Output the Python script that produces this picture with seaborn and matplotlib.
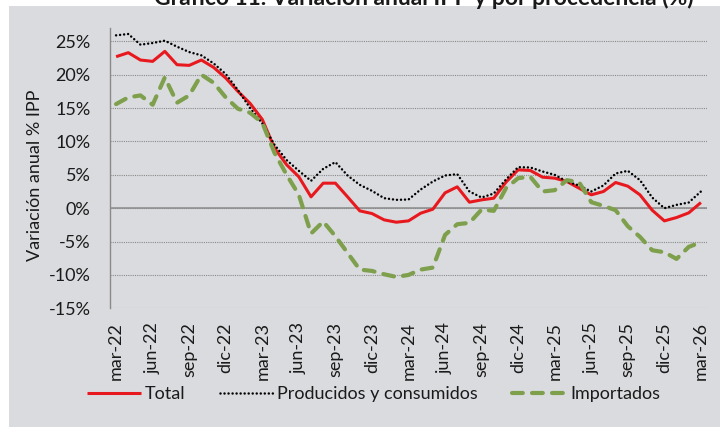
import matplotlib
matplotlib.use("Agg")
import matplotlib.pyplot as plt
from matplotlib.patches import Rectangle
import numpy as np
import pandas as pd
import seaborn as sns

# monthly data, mar-22 .. mar-26 (49 points)
tick_labels = ["mar-22", "jun-22", "sep-22", "dic-22", "mar-23", "jun-23", "sep-23",
               "dic-23", "mar-24", "jun-24", "sep-24", "dic-24", "mar-25", "jun-25",
               "sep-25", "dic-25", "mar-26"]

total = [22.7, 23.3, 22.2, 22.0, 23.5, 21.5, 21.4, 22.2, 21.1, 19.5,
         17.5, 15.7, 13.3, 9.0, 6.5, 4.7, 1.7, 3.75, 3.75, 1.7,
         -0.4, -0.8, -1.75, -2.1, -1.9, -0.75, -0.15, 2.3, 3.2, 0.9,
         1.25, 1.5, 3.9, 5.75, 5.65, 4.65, 4.5, 4.0, 3.0, 2.0,
         2.5, 3.85, 3.3, 2.0, -0.3, -1.9, -1.4, -0.7, 0.85]

producidos = [25.9, 26.1, 24.5, 24.75, 25.1, 24.2, 23.4, 22.9, 21.7, 20.1,
              17.7, 15.0, 12.7, 9.5, 7.2, 5.6, 4.1, 5.9, 6.9, 4.9,
              3.5, 2.6, 1.5, 1.25, 1.3, 2.8, 4.0, 4.9, 5.1, 2.5,
              1.6, 2.2, 4.3, 6.15, 6.1, 5.5, 5.0, 4.0, 3.4, 2.5,
              3.4, 5.2, 5.6, 4.2, 1.6, 0.0, 0.5, 0.85, 2.5]

importados = [15.6, 16.6, 16.9, 15.5, 19.6, 15.8, 16.9, 20.0, 18.8, 16.6,
              14.9, 14.3, 12.8, 8.3, 5.0, 2.0, -3.8, -2.0, -4.2, -6.7,
              -9.2, -9.4, -9.9, -10.3, -10.0, -9.2, -8.9, -4.0, -2.4, -2.2,
              -0.2, -0.4, 3.0, 4.5, 4.7, 2.5, 2.7, 4.2, 3.9, 0.9,
              0.35, -0.3, -2.7, -4.3, -6.3, -6.6, -7.6, -5.8, -5.1]

W, H = 720, 429
BG = "#dadbde"
GRID = "#8a8a8a"
TXT = "#1a1a1a"
FS = 13

sns.set_style("white")
plt.rcParams["font.family"] = ["Lato", "DejaVu Sans"]

fig = plt.figure(figsize=(W / 100, H / 100), dpi=100)
fig.patch.set_facecolor("white")
# grey panel behind the chart
fig.patches.append(Rectangle((9 / W, 2 / H), (W - 9) / W, 421 / H,
                             transform=fig.transFigure, facecolor=BG,
                             edgecolor="none", zorder=-5))

ax = fig.add_axes([110 / W, 1 - 308.3 / H, 597 / W, 280.3 / H])
ax.set_facecolor("none")

x = np.arange(len(total))
df = pd.DataFrame({"x": x, "Total": total,
                   "Producidos y consumidos": producidos,
                   "Importados": importados})

sns.lineplot(data=df, x="x", y="Total", ax=ax, color="#e8191e",
             linewidth=2.2, label="Total", zorder=3)
sns.lineplot(data=df, x="x", y="Producidos y consumidos", ax=ax, color="black",
             linewidth=1.8, linestyle=(0, (0.01, 1.6)),
             label="Producidos y consumidos", zorder=4)
sns.lineplot(data=df, x="x", y="Importados", ax=ax, color="#7ea04d",
             linewidth=3.0, linestyle=(0, (2.6, 2.2)),
             label="Importados", zorder=5)
for ln in ax.lines:
    ln.set_dash_capstyle("round")
    ln.set_solid_capstyle("butt")

if ax.get_legend() is not None:
    ax.get_legend().remove()

ax.set_xlim(-0.5, len(total) - 0.5)
ax.set_ylim(-15, 27)
ax.set_yticks(range(-15, 30, 5))
ax.set_yticklabels([f"{v}%" for v in range(-15, 30, 5)])
ax.set_xticks(range(0, len(total), 3))
ax.set_xticklabels(tick_labels, rotation=90, ha="center", va="top")

ax.grid(axis="y", color=GRID, linestyle=(0, (1, 1)), linewidth=0.8)
ax.grid(axis="x", visible=False)
ax.axhline(0, color=GRID, linewidth=1.1, zorder=2)
for s in ["top", "right", "bottom"]:
    ax.spines[s].set_visible(False)
ax.spines["left"].set_color(GRID)
ax.spines["left"].set_linewidth(1.0)

ax.tick_params(axis="y", length=0, pad=14, labelsize=FS, labelcolor=TXT)
ax.tick_params(axis="x", length=0, pad=10, labelsize=FS, labelcolor=TXT)

ax.set_xlabel("")
ax.set_ylabel("Variación anual % IPP", fontsize=FS, color=TXT, va="center")
ax.yaxis.set_label_coords(-0.1256, 0.476)

# title sits partly above the panel, cut at the top edge as in the original
fig.text(424 / W, 1 - 5 / H, "Gráfico 11. Variación anual IPP y por procedencia (%)",
         ha="center", va="baseline", fontsize=16.5, fontweight="bold", color=TXT)

handles, labels = ax.get_legend_handles_labels()
fig.legend(handles, labels, loc="center", bbox_to_anchor=(373.5 / W, 1 - 394 / H),
           ncol=3, frameon=False, fontsize=FS, handlelength=3.0,
           handletextpad=0.2, columnspacing=1.9, borderpad=0, labelcolor=TXT)

fig.savefig("out.png", dpi=100, facecolor=fig.get_facecolor())
